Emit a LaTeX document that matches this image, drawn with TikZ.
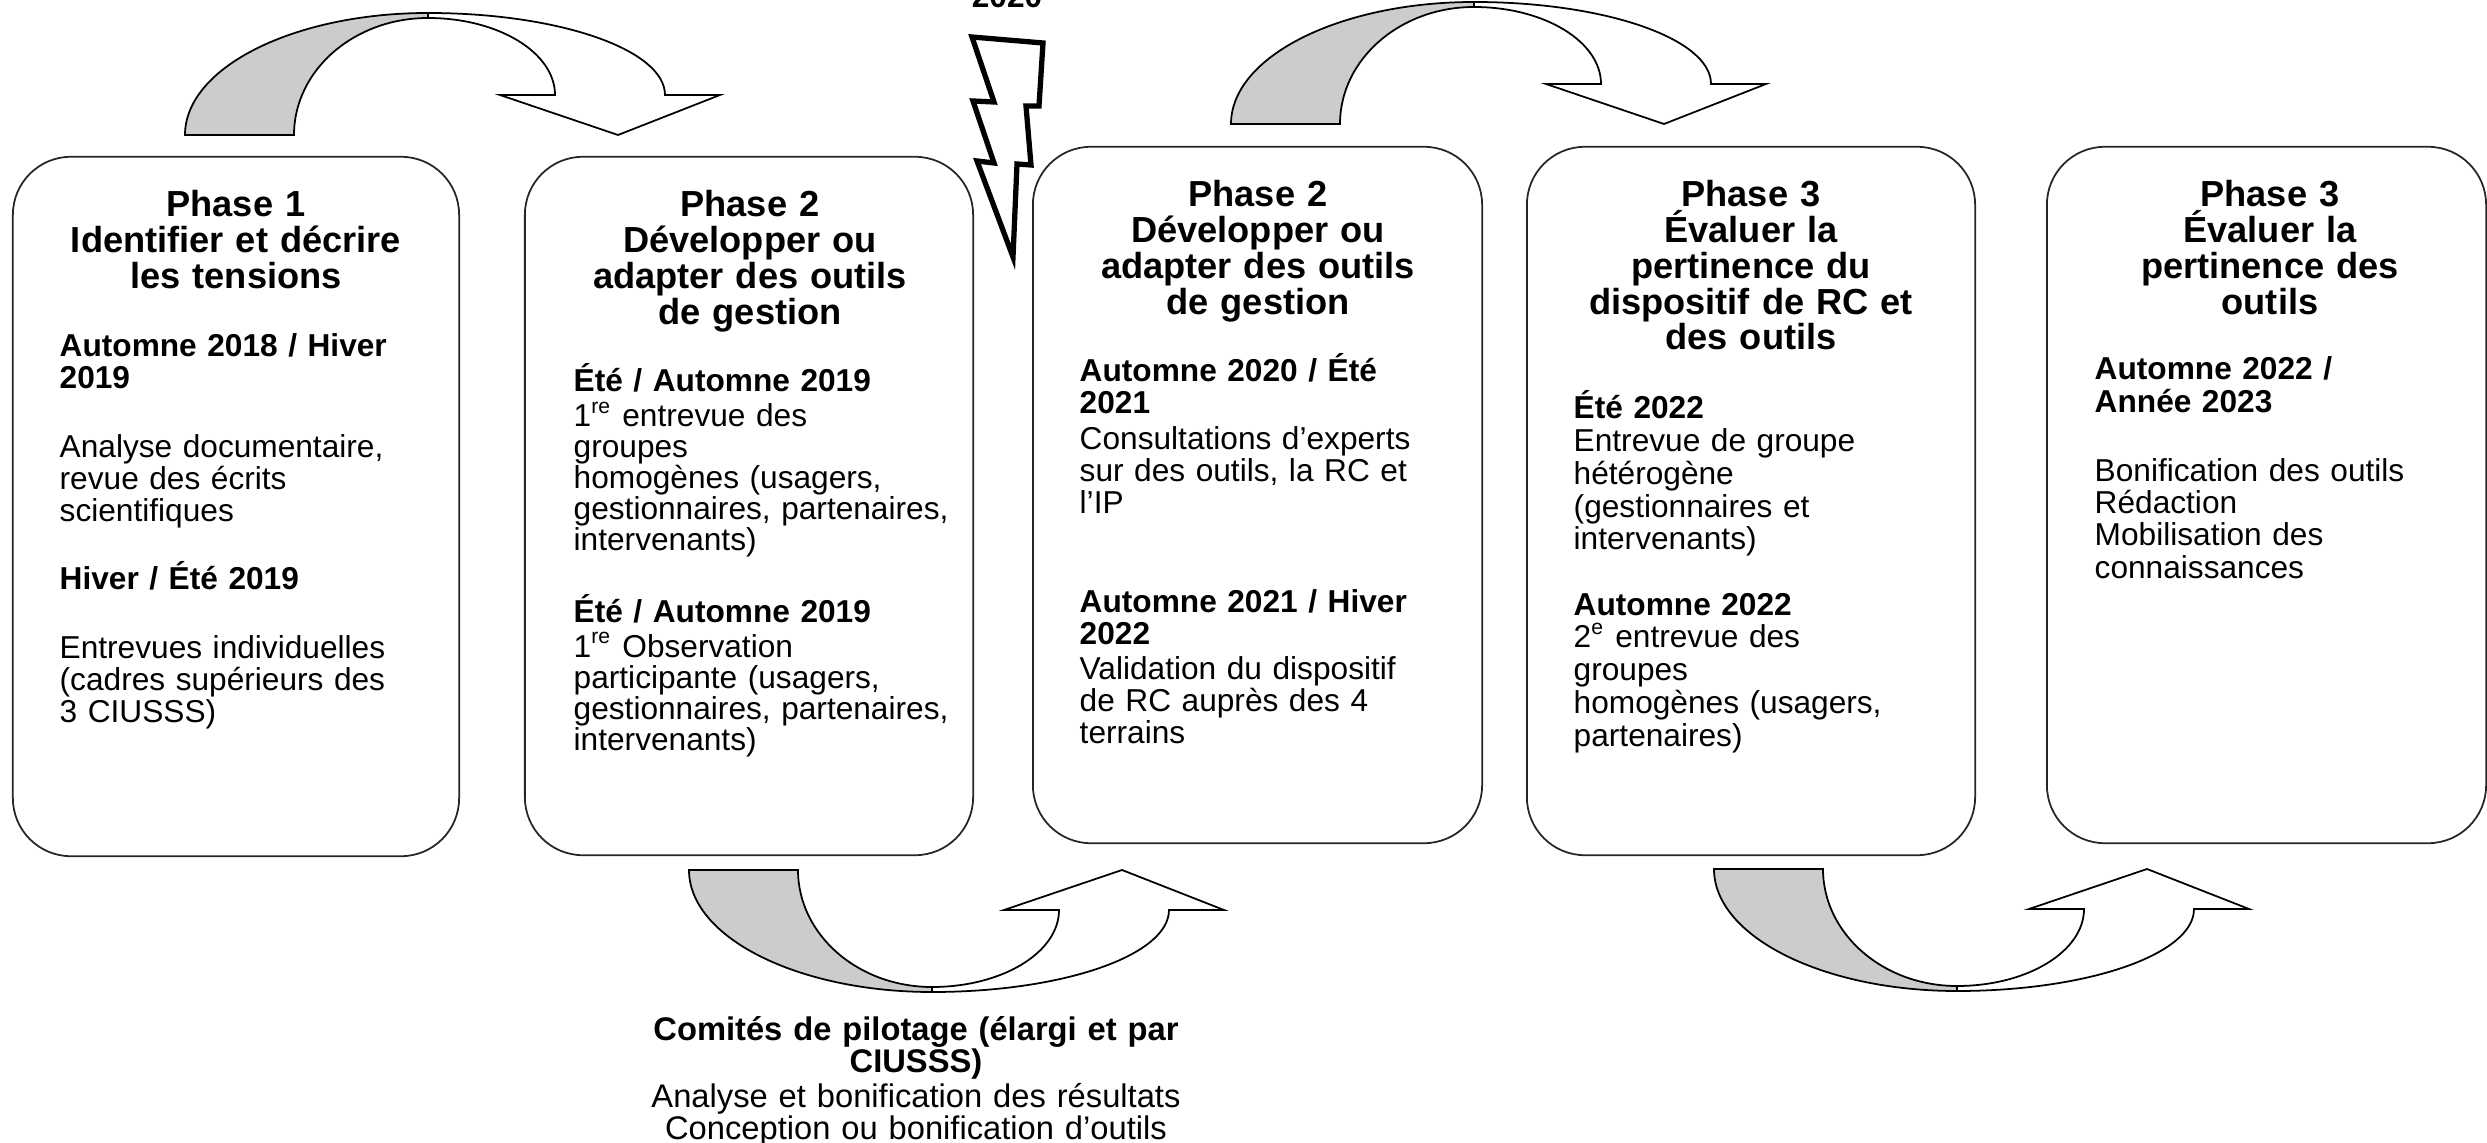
\documentclass[tikz,border=0pt]{standalone}
\usepackage{fontspec}
\setmainfont{Liberation Sans}
\newcommand{\titleFont}[0]{\fontsize{10.3}{10.2}\selectfont\bfseries}
\newcommand{\bodyFont}[0]{\fontsize{9}{9.1}\selectfont}
\newcommand{\noteFont}[0]{\fontsize{9.3}{9.1}\selectfont}
\newcommand{\jline}[1]{\makebox[\linewidth][s]{#1}}

\begin{document}
\begin{tikzpicture}[x=0.01cm, y=-0.01cm]
  \tikzset{phasebox/.style={draw=black!85, line width=0.5pt, rounded corners=0.58cm},
           phasetitle/.style={font=\titleFont, align=center, text width=4.2cm, anchor=base, inner sep=0pt},
           phasebody/.style={font=\bodyFont, align=left, anchor=base west, inner sep=0pt},
           notetext/.style={font=\noteFont, align=center, text width=6cm, anchor=base, inner sep=0pt},
           band back/.style={fill=black!20, draw=black, line width=0.5pt},
           band front/.style={fill=white, draw=black, line width=0.5pt},
           bolt/.style={fill=white, draw=black, line width=1.5pt, line join=miter},
           curl arrow/.pic={
             \filldraw[band front] (0,-122) arc[start angle=270, end angle=360, x radius=237, y radius=82]
               -- (292,-40) -- (190,0) -- (72,-40) -- (127,-40)
               arc[start angle=0, end angle=-90, x radius=127, y radius=77] -- cycle;
             \filldraw[band back] (-243,0) arc[start angle=180, end angle=270, x radius=243, y radius=122]
               -- (0,-117) arc[start angle=270, end angle=180, x radius=134, y radius=117] -- cycle;
           }}
  \useasboundingbox (0,0) rectangle (2487,1143);

  % the five phases
  \node[phasebox, minimum width=4.46cm, minimum height=6.99cm] (p1) at (236,506.5) {};
  \node[phasebox, minimum width=4.48cm, minimum height=6.98cm] (p2) at (749,506) {};
  \node[phasebox, minimum width=4.49cm, minimum height=6.96cm] (p3) at (1257.5,495) {};
  \node[phasebox, minimum width=4.48cm, minimum height=7.08cm] (p4) at (1751,501) {};
  \node[phasebox, minimum width=4.39cm, minimum height=6.96cm] (p5) at (2266.5,495) {};

  \node[phasetitle] (p1t) at (236,216.5) {Phase 1\\ Identifier et décrire\\ les tensions};
  \node[phasetitle] (p2t) at (750,217) {Phase 2\\ Développer ou\\ adapter des outils\\ de gestion};
  \node[phasetitle] (p3t) at (1258,206.5) {Phase 2\\ Développer ou\\ adapter des outils\\ de gestion};
  \node[phasetitle] (p4t) at (1751,206.5) {Phase 3\\ Évaluer la\\ pertinence du\\ dispositif de RC et\\ des outils};
  \node[phasetitle] (p5t) at (2270,206.5) {Phase 3\\ Évaluer la\\ pertinence des\\ outils};

  \node[phasebody, text width=3.39cm] (p1d) at (59,357) {%
    \jline{\textbf{Automne 2018 / Hiver}}\\ \textbf{2019}\\[10.5pt]
    \jline{Analyse documentaire,}\\ revue des écrits\\ scientifiques\\[8.5pt]
    \textbf{Hiver / Été 2019}\\[10.5pt]
    \jline{Entrevues individuelles}\\ \jline{(cadres supérieurs des}\\ 3 CIUSSS)};
  \node[phasebody, text width=3.75cm, font=\fontsize{9}{8.8}\selectfont] (p2d) at (573,392) {%
    \textbf{Été / Automne 2019}\\[1pt]
    1\textsuperscript{re} entrevue des\\ groupes\\ homogènes (usagers,\\
    gestionnaires, partenaires,\\ intervenants)\\[9.8pt]
    \textbf{Été / Automne 2019}\\[1pt]
    1\textsuperscript{re} Observation\\ participante (usagers,\\
    gestionnaires, partenaires,\\ intervenants)};
  \node[phasebody, text width=3.41cm] (p3d) at (1079,382) {%
    \textbf{Automne 2020 / Été}\\ \textbf{2021}\\[1pt]
    \jline{Consultations d’experts}\\ \jline{sur des outils, la RC et}\\ l’IP\\[19pt]
    \jline{\textbf{Automne 2021 / Hiver}}\\ \textbf{2022}\\[1pt]
    \jline{Validation du dispositif}\\ de RC auprès des 4\\ terrains};
  \node[phasebody, text width=3.45cm, font=\fontsize{9}{9.3}\selectfont] (p4d) at (1573,419) {%
    \textbf{Été 2022}\\
    Entrevue de groupe\\ hétérogène\\ (gestionnaires et\\ intervenants)\\[9.3pt]
    \textbf{Automne 2022}\\
    2\textsuperscript{e} entrevue des\\ groupes\\ homogènes (usagers,\\ partenaires)};
  \node[phasebody, text width=3.2cm, font=\fontsize{9}{9.2}\selectfont] (p5d) at (2094,380) {%
    \textbf{Automne 2022 /}\\ \textbf{Année 2023}\\[10.4pt]
    Bonification des outils\\ Rédaction\\ Mobilisation des\\ connaissances};

  % steering committees
  \node[notetext] (n1) at (916,1040) {\textbf{Comités de pilotage (élargi et par}\\
    \textbf{CIUSSS)}\\[1pt] Analyse et bonification des résultats\\ Conception ou bonification d’outils};

  % break of 2020
  \node[font=\bodyFont\bfseries, anchor=base, inner sep=0pt] (y1) at (1007,8) {2020};
  \draw[bolt] (972,37) -- (1043,43) -- (1039,106) -- (1026,106) -- (1031,165) -- (1017,164)
    -- (1013,257) -- (977,161) -- (994,163) -- (973,101) -- (994,102) -- cycle;

  % curved arrows
  \pic at (428,135) {curl arrow};
  \pic at (1474,124) {curl arrow};
  \pic[yscale=-1] at (932,870) {curl arrow};
  \pic[yscale=-1] at (1957,869) {curl arrow};
\end{tikzpicture}
\end{document}
